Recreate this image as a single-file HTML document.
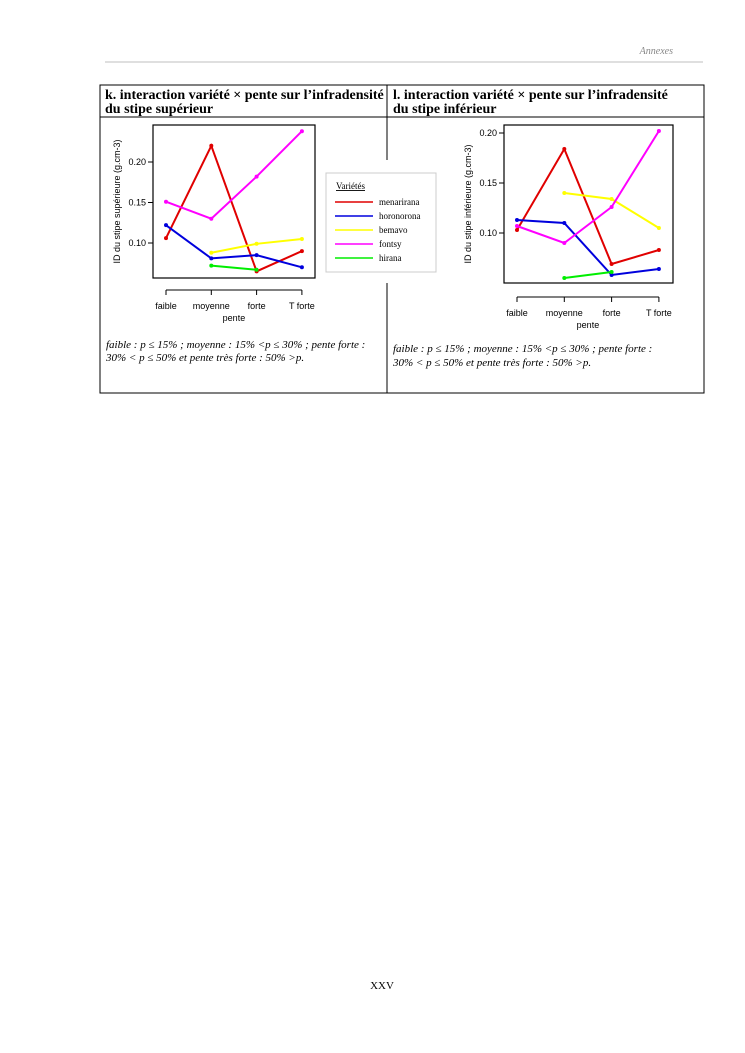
<!DOCTYPE html>
<html><head><meta charset="utf-8">
<style>
body{margin:0;background:#fff;}
svg{display:block;}
.t{font-family:"Liberation Sans",sans-serif;font-size:9px;fill:#000;}
.s{font-family:"Liberation Serif",serif;}
</style></head><body>
<svg width="745" height="1053" viewBox="0 0 745 1053">
<text x="673" y="54" text-anchor="end" class="s" font-style="italic" font-size="10" fill="#888">Annexes</text>
<line x1="105" y1="62" x2="703" y2="62" stroke="#aaa" stroke-width="0.8"/>
<g stroke="#000" stroke-width="1" fill="none">
<rect x="100" y="85" width="604" height="308"/>
<line x1="100" y1="117" x2="704" y2="117"/>
<line x1="387" y1="85" x2="387" y2="160"/>
<line x1="387" y1="283" x2="387" y2="393"/>
</g>
<text class="s" font-weight="bold" font-size="14"><tspan x="105" y="99">k. interaction variété × pente sur l’infradensité</tspan><tspan x="105" y="113">du stipe supérieur</tspan></text>
<text class="s" font-weight="bold" font-size="14"><tspan x="393" y="99">l. interaction variété × pente sur l’infradensité</tspan><tspan x="393" y="113">du stipe inférieur</tspan></text>
<text class="s" font-style="italic" font-size="11"><tspan x="106" y="348">faible : p ≤ 15% ; moyenne : 15% &lt;p ≤ 30% ; pente forte :</tspan><tspan x="106" y="361">30% &lt; p ≤ 50% et  pente très forte : 50% &gt;p.</tspan></text>
<text class="s" font-style="italic" font-size="11"><tspan x="393" y="352">faible : p ≤ 15% ; moyenne : 15% &lt;p ≤ 30% ; pente forte :</tspan><tspan x="393" y="366">30% &lt; p ≤ 50% et  pente très forte : 50% &gt;p.</tspan></text>
<g id="chartK"></g>
<g id="chartL"></g>
<g>
<rect x="326" y="173" width="110" height="99" fill="#fff" stroke="#ccc" stroke-width="1"/>
<text x="336" y="189" class="s" font-size="9" text-decoration="underline">Variétés</text>
<g id="legendItems"></g>
</g>
<text x="382" y="989" text-anchor="middle" class="s" font-size="11">XXV</text>
</svg>
<script>
const categories = ["faible","moyenne","forte","T forte"];
const seriesNames = ["menarirana","horonorona","bemavo","fontsy","hirana"];
const seriesColors = ["#e00000","#0000dd","#ffff00","#ff00ff","#00ee00"];
const kMenarirana = [0.106,0.220,0.065,0.090];
const kHoronorona = [0.122,0.081,0.085,0.070];
const kBemavo = [null,0.088,0.099,0.105];
const kFontsy = [0.151,0.130,0.182,0.238];
const kHirana = [null,0.072,0.067,null];
const lMenarirana = [0.103,0.184,0.069,0.083];
const lHoronorona = [0.113,0.110,0.058,0.064];
const lBemavo = [null,0.140,0.134,0.105];
const lFontsy = [0.107,0.090,0.126,0.202];
const lHirana = [null,0.055,0.061,null];
const kTicks = [0.10,0.15,0.20];
const lTicks = [0.10,0.15,0.20];
const NS="http://www.w3.org/2000/svg";
function mk(tag,attrs,parent){const e=document.createElementNS(NS,tag);for(const k in attrs)e.setAttribute(k,attrs[k]);parent.appendChild(e);return e;}
function drawChart(g,cfg,series,ticks,ytitle){
  const yS=v=>cfg.y0-(v-cfg.v0)*cfg.ppu;
  const xS=i=>cfg.x0+i*cfg.dx;
  const box=mk('rect',{x:cfg.bx,y:cfg.by,width:cfg.bw,height:cfg.bh,fill:'none',stroke:'#000','stroke-width':1.2},g);
  
  
  ticks.forEach(v=>{
    const y=yS(v);
    const tl=mk('line',{x1:cfg.bx-5,y1:y,x2:cfg.bx,y2:y,stroke:'#000'},g);
    
    
    const tx=mk('text',{x:cfg.bx-7,y:y+3,'text-anchor':'end',class:'t'},g);
    tx.textContent=v.toFixed(2);
    
    
  });
  const yt=mk('text',{x:0,y:0,'text-anchor':'middle',class:'t',transform:`translate(${cfg.bx-33},${cfg.by+cfg.bh/2}) rotate(-90)`},g);
  yt.textContent=ytitle;
  
  
  const ax=mk('line',{x1:xS(0),y1:cfg.ay,x2:xS(categories.length-1),y2:cfg.ay,stroke:'#000'},g);
  
  
  categories.forEach((c,i)=>{
    const tl=mk('line',{x1:xS(i),y1:cfg.ay,x2:xS(i),y2:cfg.ay+5,stroke:'#000'},g);
    
    
    const tx=mk('text',{x:xS(i),y:cfg.ay+19,'text-anchor':'middle',class:'t'},g);
    tx.textContent=c;
    
    
  });
  const xt=mk('text',{x:(xS(1)+xS(2))/2,y:cfg.ay+31,'text-anchor':'middle',class:'t'},g);
  xt.textContent='pente';
  
  
  series.forEach((vals,si)=>{
    const pts=[];
    vals.forEach((v,i)=>{if(v!==null)pts.push([xS(i),yS(v)]);});
    const pl=mk('polyline',{points:pts.map(p=>p.join(',')).join(' '),fill:'none',stroke:seriesColors[si],'stroke-width':2},g);
    
    
    pts.forEach(p=>{
      const c=mk('circle',{cx:p[0],cy:p[1],r:2,fill:seriesColors[si]},g);
      
      
    });
  });
}
drawChart(document.getElementById('chartK'),
  {bx:153,by:125,bw:162,bh:153,x0:166,dx:45.3,y0:243,v0:0.10,ppu:810,ay:290},
  [kMenarirana,kHoronorona,kBemavo,kFontsy,kHirana],kTicks,'ID du stipe supérieure (g.cm-3)');
drawChart(document.getElementById('chartL'),
  {bx:504,by:125,bw:169,bh:158,x0:517,dx:47.3,y0:233,v0:0.10,ppu:1000,ay:297},
  [lMenarirana,lHoronorona,lBemavo,lFontsy,lHirana],lTicks,'ID du stipe inférieure (g.cm-3)');
const lg=document.getElementById('legendItems');
seriesNames.forEach((n,i)=>{
  const y=202+i*14;
  const l=mk('line',{x1:335,y1:y,x2:373,y2:y,stroke:seriesColors[i],'stroke-width':1.6},lg);
  
  
  const t=mk('text',{x:379,y:y+3,class:'s','font-size':9},lg);
  t.textContent=n;
  
  
});
</script>
</body></html>
